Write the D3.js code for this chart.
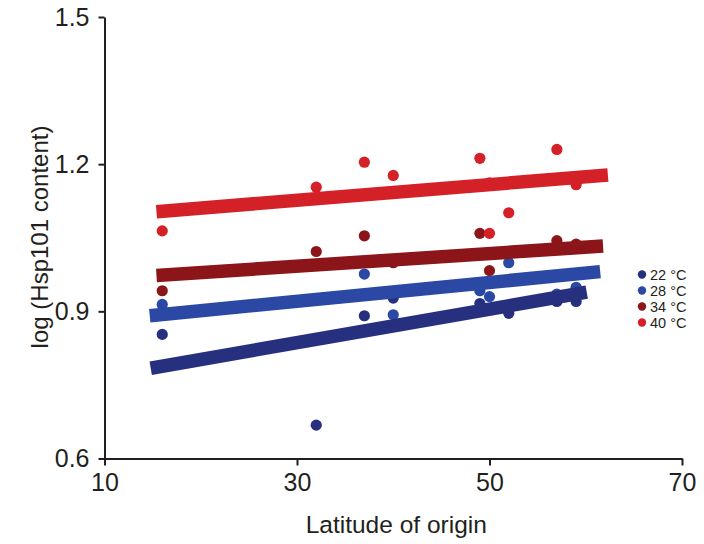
<!DOCTYPE html>
<html>
<head>
<meta charset="utf-8">
<script src="https://cdn.jsdelivr.net/npm/d3@7"></script>
<style>
  html, body { margin: 0; padding: 0; background: #fff; }
  svg { display: block; }
  text { font-family: "Liberation Sans", Arial, Helvetica, sans-serif; fill: #231f20; }
</style>
</head>
<body>
<svg id="chart" width="704" height="544"></svg>
<script>
// ---- data ----
const seriesNames = ["22 °C", "28 °C", "34 °C", "40 °C"];
const seriesColors = ["#27307e", "#2a48a4", "#8c1519", "#d42027"];

const lat22 = [16, 32, 37, 40, 49, 52, 57, 59];
const hsp22 = [0.853, 0.668, 0.891, 0.927, 0.916, 0.896, 0.920, 0.920];
const lat28 = [16, 37, 40, 49, 50, 52, 57, 59];
const hsp28 = [0.914, 0.976, 0.893, 0.942, 0.930, 0.999, 0.935, 0.949];
const lat34 = [16, 32, 37, 40, 49, 50, 57, 59];
const hsp34 = [0.942, 1.022, 1.054, 0.999, 1.059, 0.983, 1.044, 1.037];
const lat40 = [16, 32, 37, 40, 49, 50, 50, 52, 57, 59];
const hsp40 = [1.064, 1.153, 1.204, 1.177, 1.212, 1.162, 1.059, 1.101, 1.230, 1.158];

// regression line end points per series (22, 28, 34, 40 °C)
const fitX0 = [14.8, 14.7, 15.4, 15.4];
const fitY0 = [0.784, 0.891, 0.973, 1.103];
const fitX1 = [60.1, 61.5, 61.8, 62.3];
const fitY1 = [0.939, 0.981, 1.033, 1.178];

const xTicks = [10, 30, 50, 70];
const yTicks = [0.6, 0.9, 1.2, 1.5];
const xTitle = "Latitude of origin";
const yTitle = "log (Hsp101 content)";

// ---- layout ----
const svg = d3.select("#chart");
const x = d3.scaleLinear().domain([10, 70]).range([104.5, 682]);
const y = d3.scaleLinear().domain([0.6, 1.5]).range([458.5, 17]);

const lats = [lat22, lat28, lat34, lat40];
const hsps = [hsp22, hsp28, hsp34, hsp40];

// points
const pts = svg.append("g");
lats.forEach((la, i) => {
  pts.selectAll(null)
    .data(la.map((d, j) => ({ x: d, y: hsps[i][j] })))
    .enter().append("circle")
    .attr("cx", d => x(d.x))
    .attr("cy", d => y(d.y))
    .attr("r", 5.6)
    .attr("fill", seriesColors[i]);
});

// fit lines
const fits = svg.append("g");
seriesNames.forEach((s, i) => {
  fits.append("line")
    .attr("x1", x(fitX0[i])).attr("y1", y(fitY0[i]))
    .attr("x2", x(fitX1[i])).attr("y2", y(fitY1[i]))
    .attr("stroke", seriesColors[i])
    .attr("stroke-width", 13.5)
    .attr("stroke-linecap", "butt");
});

// axes
const xAxis = d3.axisBottom(x).tickValues(xTicks).tickFormat(d3.format("d")).tickSizeOuter(0).tickSizeInner(7).tickPadding(8);
const yAxis = d3.axisLeft(y).tickValues(yTicks).tickFormat(d3.format(".1f")).tickSizeOuter(0).tickSizeInner(6).tickPadding(9);

const gx = svg.append("g").attr("transform", `translate(0,${y(0.6)})`).call(xAxis);
const gy = svg.append("g").attr("transform", `translate(${x(10)},0)`).call(yAxis);
[gx, gy].forEach(g => {
  g.select(".domain").attr("stroke", "#231f20").attr("stroke-width", 2);
  g.selectAll(".tick line").attr("stroke", "#231f20").attr("stroke-width", 2);
  g.selectAll(".tick text").attr("font-size", 25).attr("font-family", "Liberation Sans, Arial, sans-serif").attr("fill", "#231f20");
});

svg.append("text")
  .attr("x", (x(10) + x(70)) / 2 + 3)
  .attr("y", 533)
  .attr("text-anchor", "middle")
  .attr("font-size", 24.5)
  .text(xTitle);

svg.append("text")
  .attr("transform", `translate(48,${237}) rotate(-90)`)
  .attr("text-anchor", "middle")
  .attr("font-size", 24)
  .text(yTitle);

// legend
const lg = svg.append("g").attr("transform", "translate(642,274.5)");
seriesNames.forEach((s, i) => {
  const row = lg.append("g").attr("transform", `translate(0,${i * 16})`);
  row.append("circle").attr("r", 4.2).attr("fill", seriesColors[i]);
  row.append("text").attr("x", 8).attr("y", 5).attr("font-size", 14.5).text(s);
});
</script>
</body>
</html>
